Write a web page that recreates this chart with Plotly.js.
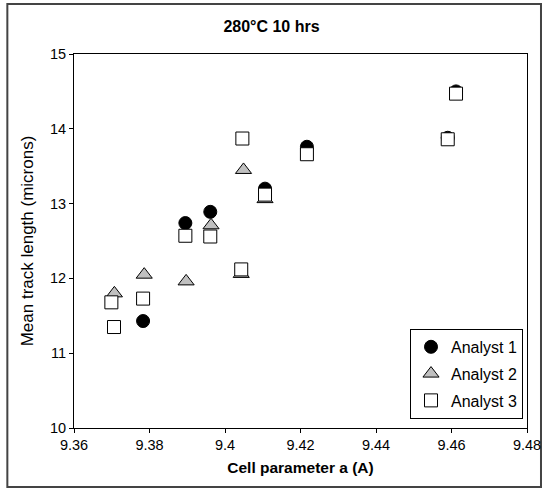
<!DOCTYPE html>
<html>
<head>
<meta charset="utf-8">
<script src="https://cdn.plot.ly/plotly-3.0.1.min.js"></script>
<style>html,body{margin:0;padding:0;background:#fff;}#chart{width:543px;height:488px;}</style>
</head>
<body>
<div id="chart"></div>
<script>
// Analyst 1 (filled circles)
var a1x = [9.3783, 9.3895, 9.3961, 9.4106, 9.4217, 9.4590, 9.4612];
var a1y = [11.43, 12.74, 12.89, 13.20, 13.76, 13.88, 14.50];
// Analyst 2 (grey triangles)
var a2x = [9.3707, 9.3786, 9.3897, 9.3963, 9.4043, 9.4049, 9.4106];
var a2y = [11.80, 12.05, 11.96, 12.71, 12.06, 13.45, 13.06];
// Analyst 3 (open squares)
var a3x = [9.3699, 9.3706, 9.3783, 9.3895, 9.3961, 9.4043, 9.4046, 9.4106, 9.4217, 9.4590, 9.4612];
var a3y = [11.68, 11.35, 11.73, 12.57, 12.56, 12.12, 13.87, 13.12, 13.66, 13.86, 14.47];

var names = ["Analyst 1", "Analyst 2", "Analyst 3"];
var xTicks = [9.36, 9.38, 9.40, 9.42, 9.44, 9.46, 9.48];
var xTickText = ["9.36", "9.38", "9.4", "9.42", "9.44", "9.46", "9.48"];
var yTicks = [10, 11, 12, 13, 14, 15];

var font = "Arial, 'Liberation Sans', sans-serif";

var traces = [
  {x: a1x, y: a1y, name: names[0], type: "scatter", mode: "markers", legendgroup: "g1",
   marker: {symbol: "circle", size: 13, color: "#000000", line: {color: "#000000", width: 1}}},
  {x: a2x, y: a2y, name: names[1], type: "scatter", mode: "markers", legendgroup: "g2",
   marker: {symbol: "triangle-up", size: 14, color: "#c0c0c0", line: {color: "#000000", width: 1}}},
  {x: a3x, y: a3y, name: names[2], type: "scatter", mode: "markers", legendgroup: "g3",
   marker: {symbol: "square", size: 13, color: "#ffffff", line: {color: "#000000", width: 1}}}
];

var layout = {
  width: 543, height: 488,
  margin: {l: 74, r: 16, t: 54, b: 60, pad: 0},
  paper_bgcolor: "#ffffff", plot_bgcolor: "#ffffff",
  font: {family: font, size: 14, color: "#000000"},
  title: {text: "<b>280°C 10 hrs</b>", font: {family: font, size: 16, color: "#000000"},
          x: 0.5, xanchor: "center", y: 1 - 26/488, yanchor: "middle"},
  xaxis: {range: [9.36, 9.48], tickvals: xTicks, ticktext: xTickText, showgrid: false, zeroline: false,
          showline: true, linecolor: "#000000", linewidth: 1, mirror: true,
          ticks: "outside", ticklen: 4, tickcolor: "#000000", tickfont: {size: 14.5},
          title: {text: "<b>Cell parameter a (A)</b>", font: {size: 15.5}, standoff: 9}},
  yaxis: {range: [10, 15], tickvals: yTicks, showgrid: false, zeroline: false,
          showline: true, linecolor: "#000000", linewidth: 1, mirror: true,
          ticks: "outside", ticklen: 4, tickcolor: "#000000", tickfont: {size: 14.5},
          title: {text: "Mean track length (microns)", font: {size: 17}, standoff: 12}},
  showlegend: true,
  legend: {x: (523 - 73.7) / 453.3, y: 0.265, xanchor: "right", yanchor: "top", bgcolor: "#ffffff",
           bordercolor: "#000000", borderwidth: 1, font: {size: 16, color: "#000000"},
           traceorder: "grouped", tracegroupgap: 3, itemwidth: 30},
  shapes: [{type: "rect", xref: "paper", yref: "paper",
            x0: (7 - 73.7) / 453.3, x1: (541 - 73.7) / 453.3,
            y0: (428 - 487) / 374, y1: (428 - 4) / 374,
            line: {color: "#444444", width: 2}, fillcolor: "rgba(0,0,0,0)", layer: "below"}]
};

Plotly.newPlot("chart", traces, layout, {displayModeBar: false, staticPlot: true});
</script>
</body>
</html>
